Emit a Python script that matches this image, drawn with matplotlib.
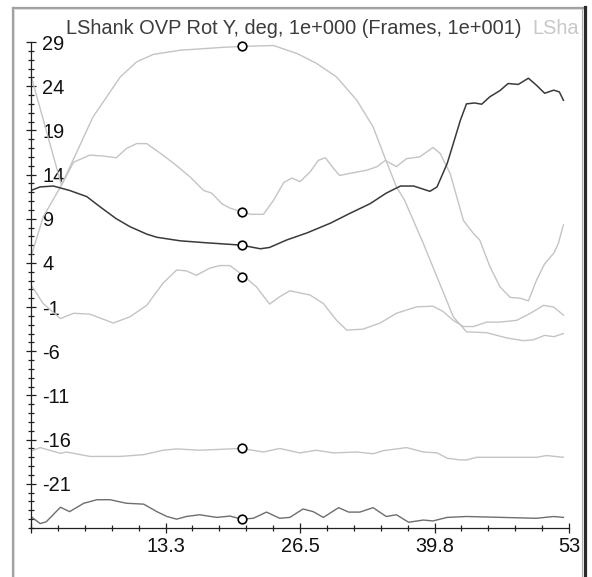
import matplotlib

matplotlib.use("Agg")
import matplotlib.pyplot as plt
from matplotlib.lines import Line2D
from matplotlib.ticker import FixedLocator, MultipleLocator

plt.rcParams["axes.unicode_minus"] = False

W, H = 592, 577
FONT = ["Liberation Sans", "DejaVu Sans"]
FS = 14.4

# frame cursor and the value of each trace at it
cursor_frame = 20.76
cursor_values = [28.5, 9.8, 6.0, 2.4, -17.0, -25.0]

# traces: frames (x) and degrees (y)
a_f = [0, 1.2, 3.0, 6.1, 8.8, 10.4, 12.05, 14.7, 18.95, 20.76, 23.9, 26.2, 28.1, 30.1,
       32.1, 33.7, 34.9, 36.0, 36.8, 38.65, 40.0, 41.6, 42.6, 42.9, 44.9, 46.9, 48.5,
       49.5, 50.6, 51.5, 52.45]
a_v = [4.7, 9.2, 12.8, 20.5, 25.05, 26.75, 27.6, 28.07, 28.4, 28.5, 28.6, 27.7, 26.6, 25.05,
       22.4, 19.4, 15.8, 12.6, 11.1, 6.2, 2.4, -2.1, -3.4, -3.8, -3.9, -4.5, -4.8,
       -4.7, -4.2, -4.35, -4.0]

b_f = [0, 3.0, 4.2, 5.8, 7.1, 8.4, 9.4, 10.4, 11.4, 13.0, 14.35, 15.7, 17.0, 17.8, 18.8,
       19.6, 20.76, 21.6, 22.9, 23.9, 24.9, 25.7, 26.5, 27.5, 28.3, 29.0, 29.8, 30.4,
       31.75, 33.1, 34.1, 34.9, 36.0, 37.0, 38.3, 39.6, 40.3, 41.3, 42.6, 43.6, 44.2,
       45.2, 46.2, 47.2, 48.2, 49.0, 49.8, 50.6, 51.5, 51.95, 52.45]
b_v = [25.2, 12.8, 15.4, 16.2, 16.1, 15.9, 16.95, 17.5, 17.5, 16.2, 15.0, 13.7, 12.2, 11.9,
       10.7, 10.2, 9.8, 9.5, 9.5, 11.1, 13.1, 13.6, 13.2, 14.3, 15.6, 15.9, 14.7, 13.9,
       14.2, 14.5, 14.9, 15.6, 14.9, 15.8, 16.0, 17.06, 16.4, 14.1, 8.8, 7.3, 6.6,
       3.6, 1.3, 0.1, 0.0, -0.3, 2.05, 3.9, 5.1, 6.2, 8.3]

c_f = [0, 1.2, 2.9, 4.2, 5.8, 8.1, 9.75, 11.4, 13.0, 14.35, 15.3, 16.3, 17.6, 18.6, 19.6,
       20.76, 22.2, 23.5, 24.5, 25.5, 27.5, 28.8, 30.1, 31.1, 32.7, 34.4, 36.0, 38.0,
       39.6, 40.6, 41.6, 42.6, 43.6, 44.9, 46.2, 47.85, 49.2, 50.5, 51.5, 52.45]
c_v = [1.5, -0.6, -2.3, -1.7, -1.8, -2.8, -2.1, -0.8, 1.7, 3.2, 3.1, 2.6, 3.4, 3.7, 3.7,
       2.7, 1.3, -0.66, 0.17, 0.85, 0.36, -0.6, -2.5, -3.6, -3.5, -2.8, -1.7, -0.97,
       -0.9, -1.5, -2.5, -3.2, -3.2, -2.7, -2.7, -2.5, -1.7, -0.8, -1.0, -1.9]

d_f = [0, 0.9, 2.2, 3.8, 5.5, 6.8, 8.4, 9.75, 11.4, 12.4, 14.7, 17.0, 19.6, 20.76, 22.6,
       23.5, 25.2, 27.2, 29.5, 31.4, 33.4, 35.0, 36.4, 37.7, 39.3, 40.0, 41.0, 41.6,
       42.3, 42.9, 43.7, 44.4, 45.2, 46.2, 47.0, 48.0, 49.0, 49.8, 50.6, 51.5, 52.05,
       52.45]
d_v = [12.2, 12.6, 12.7, 12.2, 11.5, 10.35, 9.0, 8.1, 7.26, 6.9, 6.5, 6.3, 6.1, 6.0, 5.6,
       5.75, 6.6, 7.4, 8.5, 9.6, 10.7, 11.9, 12.7, 12.7, 12.1, 12.6, 15.25, 17.5,
       20.15, 22.0, 22.1, 21.96, 22.8, 23.5, 24.3, 24.2, 24.9, 24.1, 23.2, 23.55, 23.35,
       22.4]

e_f = [0, 0.9, 2.9, 3.5, 5.8, 8.8, 11.1, 13.0, 14.35, 16.6, 19.6, 20.76, 22.9, 24.5, 26.5,
       28.1, 29.8, 32.1, 33.7, 34.7, 37.0, 38.65, 40.0, 41.0, 42.3, 42.9, 43.9, 49.8,
       50.8, 52.45]
e_v = [-17.3, -16.9, -17.55, -17.4, -17.9, -17.9, -17.7, -17.2, -17.05, -17.2, -17.05, -17.0,
       -17.4, -17.0, -17.5, -17.2, -17.5, -17.4, -17.6, -17.25, -16.9, -17.4, -17.5,
       -18.1, -18.3, -18.3, -18.0, -18.0, -17.8, -18.0]

f_f = [0, 0.9, 1.5, 2.9, 3.8, 5.2, 6.5, 7.8, 9.4, 11.1, 12.4, 13.4, 14.35, 15.3, 16.6, 18.3,
       19.6, 20.76, 21.9, 23.2, 24.5, 25.5, 26.8, 27.8, 28.8, 30.3, 31.3, 32.4, 33.7,
       35.0, 36.0, 37.2, 38.65, 39.6, 41.0, 42.9, 49.8, 51.5, 52.45]
f_v = [-24.7, -25.5, -25.3, -23.65, -24.15, -23.2, -22.8, -22.8, -23.2, -23.3, -24.15, -24.7,
       -25.0, -24.7, -24.5, -24.8, -24.65, -25.0, -24.9, -24.2, -24.9, -24.8, -23.85,
       -24.15, -24.8, -23.7, -24.2, -24.2, -23.7, -24.7, -24.5, -25.35, -25.1, -25.2,
       -24.8, -24.7, -24.9, -24.7, -24.8]

x_ticks = [0, 13.25, 26.5, 39.75, 53]
x_labels = ["", "13.3", "26.5", "39.8", "53"]
y_ticks = [29, 24, 19, 14, 9, 4, -1, -6, -11, -16, -21]

LIGHT = "#c4c4c4"
DARK = "#3a3a3a"
MID = "#6e6e6e"


def fx(px):
    return px / W


def fy(py):
    return 1 - py / H


fig = plt.figure(figsize=(W / 100, H / 100), dpi=100, facecolor="white")

# panel frame: grey top/left edge, dark right edge
for xs, ys, col, lw in [
    ((12.5, 12.5), (7.5, 577), "#a0a0a0", 1.6),
    ((14, 14), (9, 577), "#dcdcdc", 0.8),
    ((12.5, 586), (7.5, 7.5), "#a0a0a0", 1.6),
    ((14, 582), (9, 9), "#dcdcdc", 0.8),
    ((581.5, 581.5), (9, 577), "#b0b0b0", 0.8),
    ((584.5, 584.5), (7, 577), "#2a2a2a", 2.3),
]:
    fig.add_artist(Line2D([fx(x) for x in xs], [fy(y) for y in ys],
                          transform=fig.transFigure, color=col, lw=lw))

ax = fig.add_axes([fx(31), fy(528), fx(538), 486 / H])
ax.set_facecolor("none")
for f, v, col, lw in [(b_f, b_v, LIGHT, 1.0), (a_f, a_v, LIGHT, 1.0), (c_f, c_v, LIGHT, 1.0),
                      (e_f, e_v, LIGHT, 1.0), (f_f, f_v, MID, 1.0), (d_f, d_v, DARK, 1.1)]:
    ax.plot(f, v, color=col, lw=lw, solid_joinstyle="round")
ax.plot([cursor_frame] * len(cursor_values), cursor_values, ls="none", marker="o",
        ms=6.2, mfc="white", mec="black", mew=1.2, clip_on=False, zorder=5)

ax.set_xlim(0, 53)
ax.set_ylim(-26, 29)
for s in ("top", "right"):
    ax.spines[s].set_visible(False)
for s in ("left", "bottom"):
    ax.spines[s].set_color("#202020")
    ax.spines[s].set_linewidth(0.9)

ax.xaxis.set_major_locator(FixedLocator(x_ticks))
ax.set_xticklabels(x_labels)
ax.xaxis.set_minor_locator(MultipleLocator(53 / 20))
ax.yaxis.set_major_locator(FixedLocator(y_ticks))
ax.yaxis.set_minor_locator(MultipleLocator(1))
ax.tick_params(which="major", direction="inout", length=6.5, width=0.9, color="#202020",
               labelsize=FS, labelcolor="#111111")
ax.tick_params(which="minor", direction="inout", length=4, width=0.9, color="#202020")
ax.tick_params(axis="x", which="major", pad=3.5)
ax.tick_params(axis="y", which="major", pad=-11.2)
for lab in ax.get_yticklabels():
    lab.set_horizontalalignment("left")
    lab.set_family(FONT)
for lab in ax.get_xticklabels():
    lab.set_family(FONT)

# header: active trace name, then the start of the next one at the panel edge
t1 = fig.text(fx(66), fy(33.5), "LShank OVP Rot Y, deg, 1e+000 (Frames, 1e+001)",
              fontsize=FS, family=FONT, color="#3c3c3c", va="baseline")
fig.canvas.draw()
bb = t1.get_window_extent()
fig.text((bb.x1 + 11) / W, fy(33.5), "LSha", fontsize=FS, family=FONT,
         color="#c8c8c8", va="baseline")

fig.savefig("out.png", dpi=100, facecolor="white")
